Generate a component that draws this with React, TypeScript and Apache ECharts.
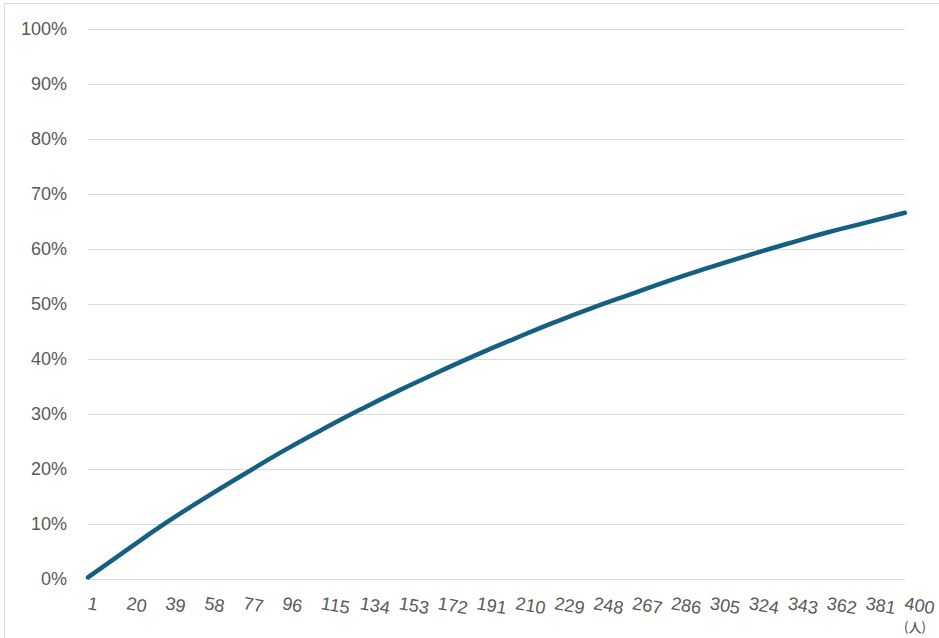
import React, { useEffect, useRef } from "react";
import * as echarts from "echarts";

const people: string[] = Array.from({ length: 400 }, (_, i) => String(i + 1));
const sampleIdx = [0, 19, 38, 57, 76, 95, 114, 133, 152, 171, 190, 209, 228, 247, 266, 285, 304, 323, 342, 361, 380, 399];
const shareProb = [0.003, 0.053, 0.102, 0.147, 0.190, 0.232, 0.271, 0.308, 0.343, 0.376, 0.408, 0.438, 0.467, 0.494, 0.519, 0.544, 0.567, 0.589, 0.610, 0.630, 0.648, 0.666];
const unitLabel = "(人)";

export default function App() {
  const ref = useRef<HTMLDivElement>(null);
  useEffect(() => {
    document.body.style.margin = "0";
    const chart = echarts.init(ref.current!, undefined, { renderer: "svg" });
    chart.setOption({
      animation: false,
      backgroundColor: "#ffffff",
      grid: { left: 88, right: 32, top: 29, bottom: 59, containLabel: false },
      xAxis: {
        type: "category",
        data: people,
        boundaryGap: false,
        axisLine: { show: true, lineStyle: { color: "#d9d9d9", width: 1 } },
        axisTick: { show: false },
        axisLabel: {
          interval: 18,
          rotate: -10,
          color: "#595959",
          fontSize: 18,
          fontFamily: "Liberation Sans, Arial, sans-serif",
          margin: 24,
        },
        splitLine: { show: false },
      },
      yAxis: {
        type: "value",
        min: 0,
        max: 1,
        interval: 0.1,
        axisLine: { show: false },
        axisTick: { show: false },
        axisLabel: {
          color: "#595959",
          fontSize: 18,
          fontFamily: "Liberation Sans, Arial, sans-serif",
          margin: 21,
          formatter: (v: number) => Math.round(v * 100) + "%",
        },
        splitLine: { lineStyle: { color: "#d9d9d9", width: 1 } },
      },
      series: [
        {
          type: "line",
          data: sampleIdx.map((x, i) => [x, shareProb[i]]),
          smooth: true,
          showSymbol: false,
          lineStyle: { color: "#156082", width: 4.5, cap: "round" },
          itemStyle: { color: "#156082" },
        },
      ],
      graphic: [
        {
          type: "rect",
          shape: { x: 4.5, y: 3.5, width: 1000, height: 1000 },
          style: { fill: "none", stroke: "#d9d9d9", lineWidth: 1 },
          silent: true,
        },
        {
          type: "text",
          x: 904,
          y: 620,
          style: {
            text: unitLabel,
            fontSize: 13,
            fill: "#404040",
            fontFamily: "Noto Sans CJK JP, sans-serif",
          },
        },
      ],
    });
    return () => chart.dispose();
  }, []);
  return <div ref={ref} style={{ width: 939, height: 638, position: "absolute", left: 0, top: 0 }} />;
}
